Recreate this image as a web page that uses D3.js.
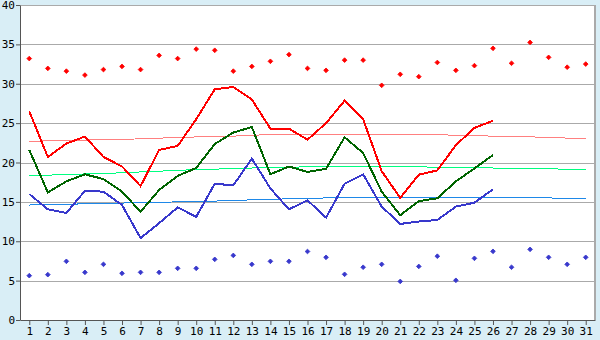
<!DOCTYPE html>
<html>
<head>
<meta charset="utf-8">
<script src="https://cdn.jsdelivr.net/npm/d3@7"></script>
<style>
  body { margin: 0; background: #d9eef6; }
  #chart svg { display: block; }
  .axis text { font-family: "DejaVu Sans Mono", monospace; font-size: 11px; fill: #000; }
  .axis path, .axis line { stroke: #555; }
</style>
</head>
<body>
<div id="chart"></div>
<script>
const days = d3.range(1, 32);

// daily observed values (days 1-26)
const maxTemp = [26.5, 20.7, 22.4, 23.3, 20.7, 19.5, 17.0, 21.6, 22.1, 25.5, 29.3, 29.6, 28.0, 24.3, 24.3,
  22.9, 25.0, 27.85, 25.5, 18.9, 15.5, 18.45, 19.0, 22.2, 24.4, 25.3];
const meanTemp = [21.6, 16.2, 17.6, 18.5, 17.9, 16.3, 13.75, 16.5, 18.3, 19.3, 22.35, 23.8, 24.5, 18.5, 19.5,
  18.8, 19.2, 23.2, 21.2, 16.3, 13.3, 15.1, 15.45, 17.6, 19.25, 20.95];
const minTemp = [16.0, 14.05, 13.6, 16.4, 16.3, 14.6, 10.4, 12.3, 14.3, 13.1, 17.3, 17.1, 20.5, 16.7, 14.05,
  15.2, 13.0, 17.3, 18.5, 14.4, 12.2, 12.5, 12.7, 14.4, 14.9, 16.6];

// records (days 1-31)
const recordMax = [33.2, 31.95, 31.6, 31.1, 31.8, 32.2, 31.8, 33.6, 33.2, 34.4, 34.25, 31.6, 32.2, 32.85, 33.7,
  31.95, 31.7, 33.0, 33.0, 29.8, 31.2, 30.9, 32.7, 31.7, 32.3, 34.5, 32.6, 35.25, 33.35, 32.1, 32.5];
const recordMin = [5.63, 5.76, 7.45, 6.05, 7.07, 5.93, 6.05, 6.05, 6.56, 6.56, 7.7, 8.2, 7.07, 7.45, 7.45,
  8.7, 7.96, 5.8, 6.7, 7.07, 4.9, 6.8, 8.1, 5.04, 7.83, 8.72, 6.7, 8.97, 7.96, 7.07, 7.96];

// normals (days 1-31)
const normalMax = [22.7, 22.75, 22.8, 22.85, 22.9, 22.95, 23.0, 23.1, 23.15, 23.25, 23.3, 23.35, 23.45, 23.55, 23.55,
  23.55, 23.55, 23.55, 23.55, 23.58, 23.58, 23.58, 23.55, 23.45, 23.4, 23.35, 23.3, 23.25, 23.2, 23.1, 23.05];
const normalMean = [18.3, 18.4, 18.45, 18.55, 18.6, 18.7, 18.8, 18.9, 19.0, 19.1, 19.15, 19.25, 19.3, 19.35, 19.4,
  19.45, 19.45, 19.45, 19.45, 19.45, 19.45, 19.45, 19.4, 19.4, 19.35, 19.3, 19.25, 19.25, 19.2, 19.15, 19.1];
const normalMin = [14.6, 14.65, 14.7, 14.75, 14.8, 14.85, 14.9, 14.95, 15.0, 15.05, 15.1, 15.2, 15.25, 15.3, 15.4,
  15.45, 15.5, 15.55, 15.58, 15.6, 15.6, 15.6, 15.6, 15.58, 15.58, 15.58, 15.55, 15.5, 15.5, 15.45, 15.45];

const yTicks = [0, 5, 10, 15, 20, 25, 30, 35, 40];

const width = 600, height = 340;
const plotLeft = 20, plotRight = 595, plotTop = 5, plotBottom = 320;

const svg = d3.select('#chart').append('svg')
  .attr('width', width)
  .attr('height', height);

const x = d3.scalePoint().domain(days).range([plotLeft, plotRight]).padding(0.5);
const y = d3.scaleLinear().domain([0, 40]).range([plotBottom, plotTop]);

svg.append('rect')
  .attr('x', plotLeft).attr('y', plotTop)
  .attr('width', plotRight - plotLeft).attr('height', plotBottom - plotTop)
  .attr('fill', '#fff');

// grid
svg.append('g').selectAll('line')
  .data(yTicks.slice(1))
  .enter().append('line')
  .attr('x1', plotLeft).attr('x2', plotRight)
  .attr('y1', d => Math.round(y(d)) + 0.5)
  .attr('y2', d => Math.round(y(d)) + 0.5)
  .attr('stroke', '#aaa');

// right border
svg.append('line')
  .attr('x1', plotRight).attr('x2', plotRight)
  .attr('y1', plotTop).attr('y2', plotBottom)
  .attr('stroke', '#aaa').attr('stroke-width', 2);

const line = d3.line()
  .x((d, i) => x(days[i]))
  .y(d => y(d));

function drawLine(values, color, w) {
  svg.append('path')
    .datum(values)
    .attr('d', line)
    .attr('fill', 'none')
    .attr('stroke', color)
    .attr('stroke-width', w)
    .attr('shape-rendering', 'crispEdges');
}

drawLine(normalMax, '#ff8080', 1);
drawLine(normalMean, '#00ff80', 1);
drawLine(normalMin, '#1e88e8', 1);
drawLine(maxTemp, '#ff0000', 2);
drawLine(meanTemp, '#006400', 2);
drawLine(minTemp, '#3838cc', 2);

// small square turned 45 degrees
const diamond = d3.symbol().type(d3.symbolSquare).size(11);

function drawPoints(values, color) {
  svg.append('g').selectAll('path')
    .data(values)
    .enter().append('path')
    .attr('d', diamond)
    .attr('transform', (d, i) => 'translate(' + x(days[i]) + ',' + y(d) + ') rotate(45)')
    .attr('fill', color)
    .attr('stroke', color)
    .attr('stroke-width', 0.8);
}

drawPoints(recordMax, '#ff0000');
drawPoints(recordMin, '#3838cc');

// axes
svg.append('g')
  .attr('class', 'axis')
  .attr('transform', 'translate(0,' + plotBottom + ')')
  .call(d3.axisBottom(x).tickSize(5).tickSizeOuter(0).tickPadding(2));

svg.append('g')
  .attr('class', 'axis')
  .attr('transform', 'translate(' + plotLeft + ',0)')
  .call(d3.axisLeft(y).tickValues(yTicks).tickSize(4).tickSizeOuter(0).tickPadding(1));
</script>
</body>
</html>
